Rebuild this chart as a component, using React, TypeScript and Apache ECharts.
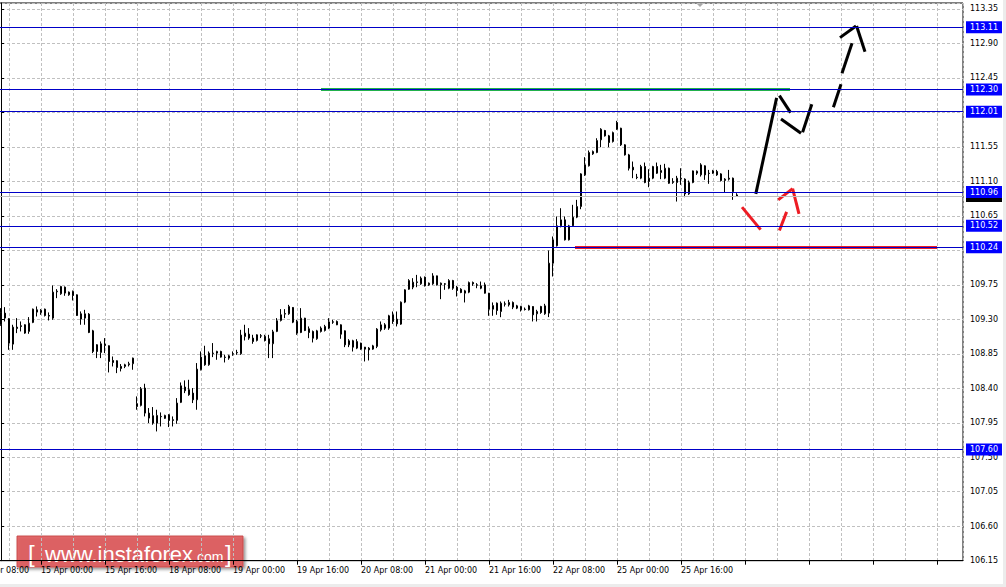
import React, { useEffect, useRef } from "react";
import * as echarts from "echarts";

// H1 bars, index 0 = first visible bar (14 Apr 14:00)
const opens = [
  109.229, 109.381, 109.307, 108.976, 109.198, 109.216, 109.229, 109.142, 109.259, 109.424,
  109.416, 109.433, 109.350, 109.316, 109.659, 109.633, 109.720, 109.620, 109.663, 109.620,
  109.372, 109.316, 109.368, 109.150, 108.968, 108.868, 108.976, 108.955, 108.763, 108.759,
  108.685, 108.685, 108.707, 108.720, 108.198, 108.176, 108.403, 108.076, 108.042, 107.946,
  108.033, 108.007, 108.055, 107.990, 107.981, 108.216, 108.416, 108.381, 108.337, 108.250,
  108.642, 108.824, 108.707, 108.859, 108.859, 108.881, 108.807, 108.794, 108.850, 108.868,
  108.850, 109.076, 109.107, 109.055, 109.024, 109.085, 109.076, 109.046, 108.981, 109.142,
  109.285, 109.368, 109.372, 109.455, 109.272, 109.128, 109.315, 109.176, 109.141, 109.046,
  109.141, 109.154, 109.185, 109.267, 109.272, 109.228, 109.150, 108.967, 109.020, 108.924,
  108.989, 108.937, 108.924, 108.911, 108.946, 109.163, 109.228, 109.185, 109.359, 109.302,
  109.237, 109.524, 109.693, 109.719, 109.780, 109.763, 109.850, 109.750, 109.763, 109.867,
  109.750, 109.763, 109.706, 109.806, 109.719, 109.693, 109.641, 109.654, 109.780, 109.750,
  109.737, 109.750, 109.641, 109.432, 109.511, 109.402, 109.502, 109.489, 109.520, 109.476,
  109.467, 109.433, 109.424, 109.467, 109.372, 109.467, 109.372, 109.381, 110.033, 110.259,
  110.520, 110.598, 110.337, 110.520, 110.633, 110.772, 111.185, 111.303, 111.459, 111.477,
  111.642, 111.764, 111.694, 111.620, 111.868, 111.794, 111.577, 111.446, 111.285, 111.155,
  111.142, 111.294, 111.098, 111.142, 111.294, 111.216, 111.142, 111.272, 111.085, 111.085,
  111.133, 111.129, 110.937, 111.085, 111.207, 111.185, 111.303, 111.207, 111.207, 111.229,
  111.198, 111.111, 111.129, 111.142, 110.924,
];
const closes = [
  109.394, 109.316, 108.990, 109.198, 109.181, 109.207, 109.120, 109.250, 109.433, 109.394,
  109.390, 109.350, 109.342, 109.655, 109.668, 109.729, 109.642, 109.655, 109.611, 109.350,
  109.303, 109.372, 109.129, 108.881, 108.881, 108.981, 108.959, 108.750, 108.737, 108.672,
  108.659, 108.707, 108.720, 108.794, 108.163, 108.394, 108.076, 108.011, 107.946, 108.046,
  108.029, 108.046, 107.981, 107.981, 108.207, 108.433, 108.368, 108.316, 108.250, 108.650,
  108.807, 108.707, 108.859, 108.855, 108.881, 108.807, 108.802, 108.824, 108.846, 108.863,
  109.094, 109.120, 109.055, 109.011, 109.098, 109.081, 109.024, 108.981, 109.137, 109.281,
  109.359, 109.376, 109.468, 109.263, 109.120, 109.315, 109.154, 109.128, 109.054, 109.150,
  109.185, 109.207, 109.267, 109.263, 109.228, 109.106, 108.967, 109.020, 108.937, 109.011,
  108.911, 108.911, 108.902, 108.954, 109.172, 109.228, 109.185, 109.346, 109.272, 109.241,
  109.524, 109.685, 109.806, 109.785, 109.789, 109.837, 109.737, 109.772, 109.867, 109.750,
  109.772, 109.759, 109.806, 109.706, 109.676, 109.650, 109.672, 109.780, 109.763, 109.746,
  109.706, 109.641, 109.432, 109.480, 109.415, 109.511, 109.498, 109.520, 109.459, 109.446,
  109.424, 109.428, 109.476, 109.359, 109.402, 109.389, 109.476, 110.033, 110.337, 110.520,
  110.598, 110.337, 110.520, 110.633, 110.772, 111.198, 111.316, 111.477, 111.490, 111.633,
  111.781, 111.694, 111.607, 111.737, 111.781, 111.577, 111.446, 111.272, 111.250, 111.150,
  111.294, 111.085, 111.142, 111.294, 111.207, 111.242, 111.272, 111.076, 111.098, 111.142,
  111.142, 110.937, 111.085, 111.237, 111.233, 111.316, 111.185, 111.203, 111.237, 111.185,
  111.111, 111.129, 111.142, 110.968, 110.910,
];
const lows = [
  109.216, 109.272, 108.902, 108.902, 109.120, 109.142, 109.111, 109.111, 109.250, 109.337,
  109.359, 109.337, 109.285, 109.294, 109.576, 109.620, 109.607, 109.607, 109.546, 109.345,
  109.229, 109.229, 109.120, 108.859, 108.794, 108.794, 108.859, 108.607, 108.685, 108.598,
  108.620, 108.663, 108.685, 108.642, 108.120, 108.163, 108.033, 107.946, 107.924, 107.837,
  107.902, 108.000, 107.894, 107.902, 107.937, 108.207, 108.337, 108.302, 108.207, 108.120,
  108.633, 108.694, 108.694, 108.807, 108.772, 108.800, 108.737, 108.772, 108.824, 108.837,
  108.837, 109.024, 109.033, 108.981, 109.011, 109.055, 109.011, 108.794, 108.794, 109.133,
  109.272, 109.316, 109.359, 109.250, 109.098, 109.120, 109.146, 109.054, 108.998, 109.033,
  109.128, 109.141, 109.172, 109.241, 109.224, 109.046, 108.937, 108.937, 108.880, 108.911,
  108.902, 108.750, 108.763, 108.902, 108.924, 109.141, 109.163, 109.163, 109.241, 109.207,
  109.228, 109.511, 109.685, 109.693, 109.719, 109.750, 109.728, 109.737, 109.750, 109.741,
  109.563, 109.685, 109.693, 109.685, 109.598, 109.641, 109.520, 109.641, 109.737, 109.706,
  109.693, 109.636, 109.346, 109.346, 109.359, 109.328, 109.467, 109.467, 109.433, 109.433,
  109.402, 109.415, 109.415, 109.272, 109.272, 109.372, 109.359, 109.329, 109.859, 110.250,
  110.500, 110.329, 110.329, 110.511, 110.620, 110.737, 111.172, 111.294, 111.446, 111.468,
  111.546, 111.685, 111.546, 111.607, 111.772, 111.563, 111.437, 111.242, 111.142, 111.129,
  111.129, 111.076, 111.024, 111.129, 111.198, 111.129, 111.129, 111.068, 111.068, 110.837,
  111.055, 110.894, 110.924, 111.076, 111.185, 111.163, 111.120, 111.068, 111.198, 111.172,
  111.098, 110.955, 111.111, 110.859, 110.902,
];
const highs = [
  109.446, 109.459, 109.316, 109.229, 109.316, 109.272, 109.235, 109.329, 109.440, 109.468,
  109.433, 109.440, 109.390, 109.742, 109.694, 109.737, 109.729, 109.663, 109.676, 109.625,
  109.403, 109.424, 109.381, 109.163, 108.975, 109.011, 109.055, 108.960, 108.815, 108.765,
  108.716, 108.720, 108.746, 108.800, 108.294, 108.416, 108.459, 108.142, 108.155, 108.120,
  108.085, 108.055, 108.063, 108.033, 108.272, 108.476, 108.503, 108.511, 108.403, 108.729,
  108.881, 108.955, 108.881, 108.990, 108.890, 108.890, 108.837, 108.837, 108.881, 108.902,
  109.163, 109.229, 109.185, 109.098, 109.105, 109.107, 109.098, 109.098, 109.163, 109.316,
  109.433, 109.433, 109.489, 109.460, 109.294, 109.446, 109.320, 109.207, 109.154, 109.163,
  109.207, 109.228, 109.315, 109.293, 109.285, 109.235, 109.155, 109.041, 109.033, 109.041,
  108.995, 108.940, 108.937, 108.967, 109.185, 109.272, 109.250, 109.359, 109.402, 109.402,
  109.533, 109.693, 109.824, 109.837, 109.880, 109.859, 109.859, 109.780, 109.902, 109.870,
  109.780, 109.772, 109.824, 109.815, 109.737, 109.706, 109.685, 109.793, 109.793, 109.772,
  109.793, 109.780, 109.645, 109.520, 109.520, 109.533, 109.533, 109.554, 109.533, 109.489,
  109.476, 109.454, 109.489, 109.470, 109.424, 109.476, 109.502, 110.198, 110.381, 110.642,
  110.750, 110.642, 110.533, 110.794, 110.859, 111.207, 111.416, 111.503, 111.503, 111.663,
  111.794, 111.772, 111.707, 111.750, 111.890, 111.800, 111.585, 111.459, 111.359, 111.198,
  111.316, 111.346, 111.259, 111.303, 111.346, 111.316, 111.329, 111.280, 111.142, 111.172,
  111.272, 111.140, 111.111, 111.242, 111.242, 111.337, 111.310, 111.250, 111.250, 111.250,
  111.207, 111.142, 111.250, 111.150, 110.946,
];

const timeLabels = [
  "14 Apr 08:00", "15 Apr 00:00", "15 Apr 16:00", "18 Apr 08:00", "19 Apr 00:00", "19 Apr 16:00",
  "20 Apr 08:00", "21 Apr 00:00", "21 Apr 16:00", "22 Apr 08:00", "25 Apr 00:00", "25 Apr 16:00",
];
const firstLabelBar = -6;
const labelStep = 16;
const gridStep = 8;
const lastBarVisible = 240.5;

const priceMin = 106.15;
const priceMax = 113.428;
const priceStep = 0.45;

const levelPrices = [113.11, 112.3, 112.01, 110.96, 110.52, 110.24, 107.6];
const bidPrice = 110.91;

const greenSegment = [[80, 112.3], [197.25, 112.3]];
const redSegment = [[143.5, 110.24], [234, 110.24]];

const blackStrokes = [
  [[188.7, 110.937], [193.9, 112.189]],
  [[194.6, 112.219], [197.4, 111.997]],
  [[195.0, 111.915], [200.0, 111.729]],
  [[200.4, 111.742], [202.7, 112.107]],
  [[208.1, 112.068], [210.0, 112.368]],
  [[210.25, 112.511], [212.75, 112.903]],
  [[209.75, 112.976], [213.75, 113.128]],
  [[213.9, 113.128], [216.0, 112.793]],
];
const redStrokes = [
  [[185.25, 110.764], [189.9, 110.471]],
  [[194.6, 110.458], [196.4, 110.702]],
  [[194.3, 110.859], [197.9, 111.006]],
  [[197.9, 111.006], [199.5, 110.676]],
];

const FONT = "DejaVu Sans";

export default function App() {
  const ref = useRef<HTMLDivElement>(null);
  useEffect(() => {
    if (!ref.current) return;
    const chart = echarts.init(ref.current, null, { renderer: "svg" });
    const candles = opens.map((o, i) => [i, o, closes[i], lows[i], highs[i]]);

    const levelData: any[] = [
      {
        yAxis: bidPrice,
        lineStyle: { color: "#c0c0c0", width: 1, type: "solid" },
        label: { formatter: bidPrice.toFixed(2), backgroundColor: "#000000" },
      },
      ...levelPrices.map((p) => ({
        yAxis: p,
        lineStyle: { color: "#0000c8", width: 1, type: "solid" },
        label: { formatter: p.toFixed(2), backgroundColor: "#0000ff" },
      })),
    ];

    const option: any = {
      animation: false,
      backgroundColor: "#ffffff",
      grid: {
        left: -23,
        right: 43,
        top: 3,
        bottom: 26.3,
        containLabel: false,
        outerBoundsMode: "none",
        show: true,
        borderColor: "#000000",
        borderWidth: 1,
        backgroundColor: "transparent",
      },
      xAxis: [
        {
          type: "value",
          min: firstLabelBar,
          max: lastBarVisible,
          interval: gridStep,
          position: "bottom",
          axisLine: { show: false },
          axisTick: { show: false },
          axisLabel: { show: false },
          splitLine: { show: true, lineStyle: { color: "#c0c0c0", type: [3, 2], width: 1 } },
        },
        {
          type: "value",
          min: firstLabelBar,
          max: lastBarVisible,
          interval: labelStep,
          position: "bottom",
          axisLine: { show: true, onZero: false, lineStyle: { color: "#000", width: 1 } },
          axisTick: { show: true, length: 4, lineStyle: { color: "#000" } },
          splitLine: { show: false },
          axisLabel: {
            show: true,
            showMinLabel: true,
            showMaxLabel: false,
            align: "left",
            margin: 6,
            color: "#000",
            fontFamily: FONT,
            fontSize: 8,
            formatter: (v: number) => {
              const i = Math.round((v - firstLabelBar) / labelStep);
              if (Math.abs(v - (firstLabelBar + i * labelStep)) > 0.01) return "";
              return i >= 0 && i < timeLabels.length ? timeLabels[i] : "";
            },
          },
        },
      ],
      yAxis: {
        type: "value",
        position: "right",
        min: priceMin,
        max: priceMax,
        interval: priceStep,
        scale: true,
        axisLine: { show: true, lineStyle: { color: "#000", width: 1 } },
        axisTick: { show: true, length: 3, lineStyle: { color: "#000" } },
        splitLine: { show: true, lineStyle: { color: "#c0c0c0", type: [3, 2], width: 1 } },
        axisLabel: {
          showMaxLabel: false,
          showMinLabel: true,
          margin: 7,
          color: "#000",
          fontFamily: FONT,
          fontSize: 8,
          formatter: (v: number) => v.toFixed(2),
        },
      },
      series: [
        {
          type: "candlestick",
          xAxisIndex: 0,
          yAxisIndex: 0,
          data: candles,
          encode: { x: 0, y: [1, 2, 3, 4] },
          barWidth: 2,
          silent: true,
          z: 2,
          itemStyle: {
            color: "#ffffff",
            color0: "#000000",
            borderColor: "#000000",
            borderColor0: "#000000",
            borderWidth: 1,
          },
        },
        {
          type: "line",
          xAxisIndex: 0,
          yAxisIndex: 0,
          data: [],
          clip: false,
          silent: true,
          z: 3,
          markLine: {
            silent: true,
            symbol: ["none", "none"],
            animation: false,
            label: {
              show: true,
              position: "end",
              distance: 3,
              color: "#ffffff",
              fontFamily: FONT,
              fontSize: 8,
              padding: [2, 4, 1, 4],
              lineHeight: 9,
            },
            data: levelData,
          },
        },
        {
          type: "lines",
          coordinateSystem: "cartesian2d",
          xAxisIndex: 0,
          yAxisIndex: 0,
          silent: true,
          z: 4,
          lineStyle: { color: "#22b14c", width: 3, opacity: 1 },
          data: [{ coords: greenSegment }],
        },
        {
          type: "lines",
          coordinateSystem: "cartesian2d",
          xAxisIndex: 0,
          yAxisIndex: 0,
          silent: true,
          z: 4,
          lineStyle: { color: "#ed1c24", width: 3, opacity: 1 },
          data: [{ coords: redSegment }, ...redStrokes.map((s) => ({ coords: s }))],
        },
        {
          type: "lines",
          coordinateSystem: "cartesian2d",
          xAxisIndex: 0,
          yAxisIndex: 0,
          silent: true,
          z: 4,
          lineStyle: { color: "#000000", width: 3, opacity: 1 },
          data: blackStrokes.map((s) => ({ coords: s })),
        },
      ],
      graphic: [
        {
          type: "polygon",
          silent: true,
          shape: { points: [[696, 3], [704, 3], [700, 7]] },
          style: { fill: "#a8a8a8" },
        },
        {
          type: "rect",
          silent: true,
          shape: { x: 1003, y: 0, width: 3, height: 587 },
          style: { fill: "#ececec" },
        },
        {
          type: "rect",
          silent: true,
          shape: { x: 0, y: 584, width: 1006, height: 3 },
          style: { fill: "#ececec" },
        },
        {
          type: "group",
          silent: true,
          z: 100,
          children: [
            {
              type: "rect",
              shape: { x: 17, y: 536, width: 226, height: 31 },
              style: {
                fill: "rgba(222,86,88,0.88)",
                stroke: "rgba(200,70,70,0.9)",
                lineWidth: 1,
                shadowBlur: 3,
                shadowOffsetX: 2,
                shadowOffsetY: 2,
                shadowColor: "rgba(0,0,0,0.45)",
              },
            },
            {
              type: "text",
              x: 28,
              y: 553,
              style: {
                text: "[",
                fill: "#ffffff",
                font: '24px "Liberation Sans"',
                verticalAlign: "middle",
              },
            },
            {
              type: "text",
              x: 45,
              y: 554,
              style: {
                text: "www.instaforex",
                fill: "#ffffff",
                font: '22px "Liberation Sans"',
                verticalAlign: "middle",
              },
            },
            {
              type: "text",
              x: 193,
              y: 557,
              style: {
                text: ".com",
                fill: "#ffffff",
                font: '14px "Liberation Sans"',
                verticalAlign: "middle",
              },
            },
            {
              type: "text",
              x: 225,
              y: 553,
              style: {
                text: "]",
                fill: "#ffffff",
                font: '24px "Liberation Sans"',
                verticalAlign: "middle",
              },
            },
          ],
        },
      ],
    };
    chart.setOption(option);
    return () => chart.dispose();
  }, []);
  return (
    <div
      ref={ref}
      style={{ position: "absolute", left: 0, top: 0, width: 1006, height: 587 }}
    />
  );
}
